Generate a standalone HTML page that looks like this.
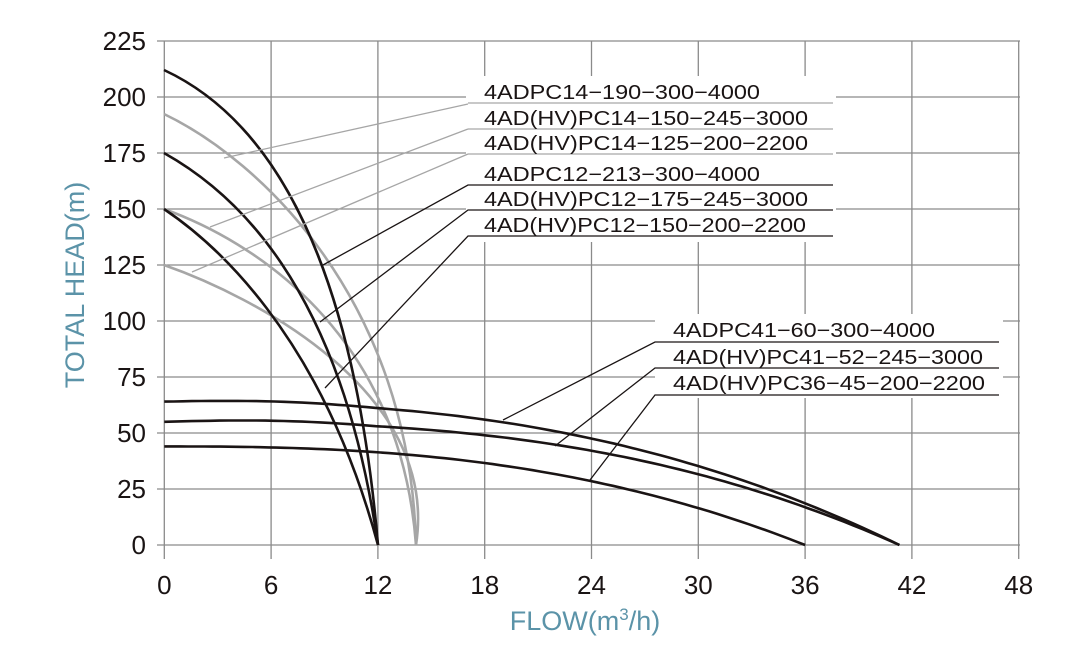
<!DOCTYPE html>
<html><head><meta charset="utf-8"><style>
body{margin:0;background:#fff;}
svg text{font-family:"Liberation Sans",Arial,sans-serif;}
</style></head><body>
<svg id="s" width="1083" height="652" viewBox="0 0 1083 652" xmlns="http://www.w3.org/2000/svg">
<g stroke="#8a8a8a" stroke-width="1.3" fill="none" id="grid"></g>
<rect x="466" y="76" width="370" height="166" fill="#fff"/>
<rect x="655" y="314" width="348" height="84" fill="#fff"/>
<g id="curves" fill="none" stroke-width="2.6">
<path d="M164,209 C250,240 400,330 416,545" stroke="#a6a6a6"/>
<path d="M164,265 C250,295 440,390 416,545" stroke="#a6a6a6"/>
<path d="M164,114 C260,160 410,300 416,545" stroke="#a6a6a6"/>
<path d="M164,70 C250,110 350,220 378,545" stroke="#1a1414"/>
<path d="M164,153 C230,190 340,280 378,545" stroke="#1a1414"/>
<path d="M164,209 C210,240 320,330 378,545" stroke="#1a1414"/>
</g>
<g fill="none" stroke-width="1.3">
<polyline points="468,104 224,158" stroke="#a6a6a6"/>
<polyline points="468,129 210,227" stroke="#a6a6a6"/>
<polyline points="468,154 192,272" stroke="#a6a6a6"/>
<line x1="468" y1="103" x2="833" y2="103" stroke="#a6a6a6"/>
<line x1="468" y1="129" x2="833" y2="129" stroke="#a6a6a6"/>
<line x1="468" y1="154" x2="833" y2="154" stroke="#a6a6a6"/>
<polyline points="833,185 468,185 323,265" stroke="#1a1414"/>
<polyline points="833,210 468,210 320,322" stroke="#1a1414"/>
<polyline points="833,236 468,236 325,388" stroke="#1a1414"/>
<polyline points="999,342 655,342 503,420" stroke="#1a1414"/>
<polyline points="999,368 655,368 555,446" stroke="#1a1414"/>
<polyline points="999,395 655,395 590,480" stroke="#1a1414"/>
</g>
<g font-size="20" fill="#1a1414">
<text x="484" y="99" textLength="276" lengthAdjust="spacingAndGlyphs">4ADPC14−190−300−4000</text>
<text x="484" y="125" textLength="324" lengthAdjust="spacingAndGlyphs">4AD(HV)PC14−150−245−3000</text>
<text x="484" y="150" textLength="324" lengthAdjust="spacingAndGlyphs">4AD(HV)PC14−125−200−2200</text>
<text x="484" y="181" textLength="276" lengthAdjust="spacingAndGlyphs">4ADPC12−213−300−4000</text>
<text x="484" y="206" textLength="324" lengthAdjust="spacingAndGlyphs">4AD(HV)PC12−175−245−3000</text>
<text x="484" y="232" textLength="322" lengthAdjust="spacingAndGlyphs">4AD(HV)PC12−150−200−2200</text>
<text x="673" y="337" textLength="262" lengthAdjust="spacingAndGlyphs">4ADPC41−60−300−4000</text>
<text x="673" y="364" textLength="310" lengthAdjust="spacingAndGlyphs">4AD(HV)PC41−52−245−3000</text>
<text x="673" y="390" textLength="312" lengthAdjust="spacingAndGlyphs">4AD(HV)PC36−45−200−2200</text>
</g>
<g id="tl" font-size="26" fill="#1a1414"></g>
<text x="585" y="630" font-size="27" fill="#5b93a8" text-anchor="middle">FLOW(m<tspan dy="-10" font-size="17">3</tspan><tspan dy="10">/h)</tspan></text>
<text transform="translate(84,285) rotate(-90)" font-size="27" fill="#5b93a8" text-anchor="middle">TOTAL HEAD(m)</text>
</svg>
<script>
var NS="http://www.w3.org/2000/svg",s=document.getElementById('s');
function X(q){return 164.3+q*17.8}function Y(h){return 545-h*2.24}
var g=document.getElementById('grid'),tl=document.getElementById('tl');
function el(p,t,a){var e=document.createElementNS(NS,t);for(var k in a)e.setAttribute(k,a[k]);p.appendChild(e);return e;}
for(var i=0;i<=8;i++){var x=X(i*6);el(g,'line',{x1:x,y1:41,x2:x,y2:559});var t=el(tl,'text',{x:x,y:594,'text-anchor':'middle'});t.textContent=i*6;}
for(var j=0;j<=9;j++){var y=Y(j*25);el(g,'line',{x1:157,y1:y,x2:1020,y2:y});var t=el(tl,'text',{x:146,y:y+9,'text-anchor':'end'});t.textContent=j*25;}
var c=document.getElementById('curves');
function flat(H,Qm,p,bump){var pts=[];for(var k=0;k<=80;k++){var q=Qm*k/80;var h=H*(1-Math.pow(q/Qm,p))+bump*Math.sin(Math.PI*Math.min(q/12,1))*(q<12?1:0);pts.push(X(q).toFixed(1)+','+Y(h).toFixed(1));}el(c,'polyline',{points:pts.join(' '),stroke:'#1a1414'});}
flat(64,41.3,2.5,0.6);flat(55,41.3,2.67,0.8);flat(44,36,2.57,0);
</script>
</body></html>
